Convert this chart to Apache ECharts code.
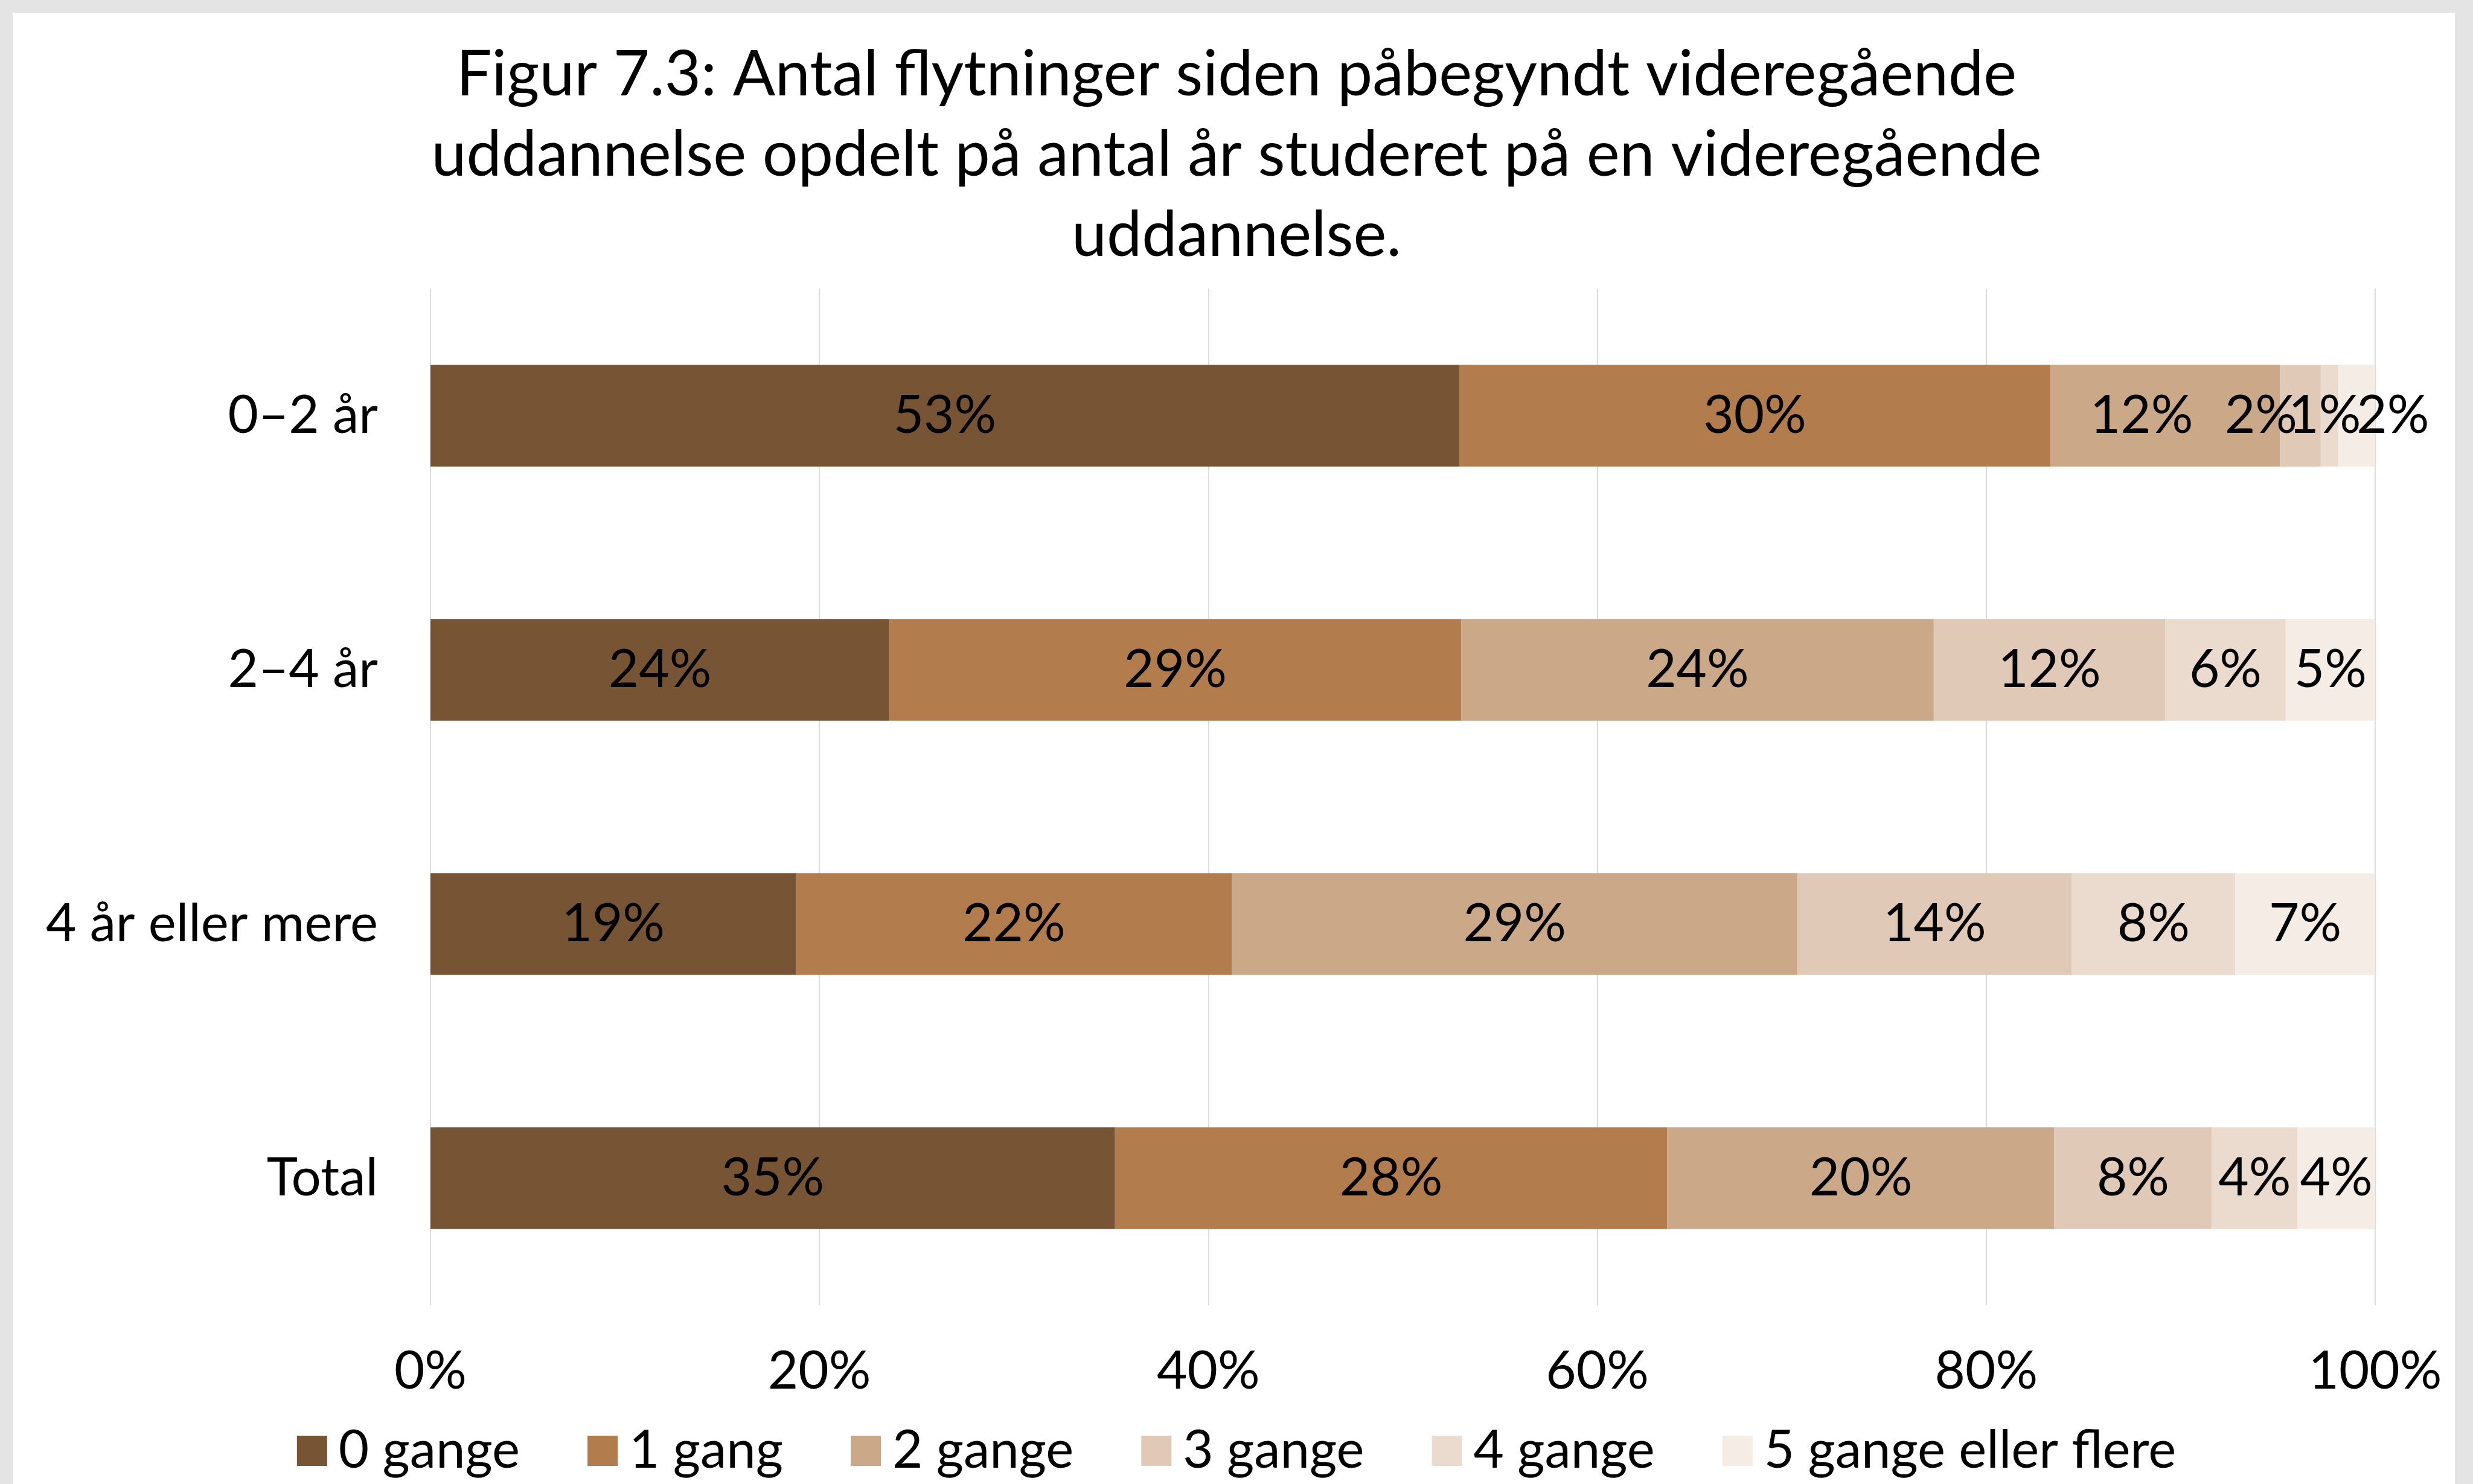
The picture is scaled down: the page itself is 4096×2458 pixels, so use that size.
<!DOCTYPE html>
<html>
<head>
<meta charset="utf-8">
<script src="https://cdn.jsdelivr.net/npm/echarts@6/dist/echarts.min.js"></script>
<style>
  html, body { margin: 0; padding: 0; background: #e4e4e4; }
  #paper { position: absolute; left: 21px; top: 21px; width: 4045px; height: 2437px; background: #fff; }
  #chart { position: absolute; left: 0; top: 0; width: 4096px; height: 2458px; }
</style>
</head>
<body>
<div id="paper"></div>
<div id="chart"></div>
<script>
// categories (rows, top to bottom)
const categories = ['0–2 år', '2–4 år', '4 år eller mere', 'Total'];

// shares in percent, one array per answer
const gange0 = [52.9, 23.6, 18.8, 35.2];
const gang1 = [30.4, 29.4, 22.4, 28.4];
const gange2 = [11.8, 24.3, 29.1, 19.9];
const gange3 = [2.1, 11.9, 14.1, 8.1];
const gange4 = [0.9, 6.2, 8.4, 4.4];
const gange5 = [1.9, 4.6, 7.2, 4.0];

const seriesNames = ['0 gange', '1 gang', '2 gange', '3 gange', '4 gange', '5 gange eller flere'];
const seriesData = [gange0, gang1, gange2, gange3, gange4, gange5];
const colors = ['#775434', '#b27c4c', '#cba888', '#e0c9b6', '#eadbce', '#f4ece5'];

// labels in the crowded first row are nudged sideways, like the original
const firstRowLabelShift = [0, 0, -39, -65, -8, 60];

const xTicks = [0, 20, 40, 60, 80, 100];

const FONT = 'Lato';
const FS = 87;

const chart = echarts.init(document.getElementById('chart'), null, { renderer: 'canvas' });

const option = {
  backgroundColor: 'transparent',
  textStyle: { fontFamily: FONT, color: '#000' },
  graphic: [{
    type: 'text',
    left: 'center',
    top: 58,
    style: {
      text: 'Figur 7.3: Antal flytninger siden påbegyndt videregående\nuddannelse opdelt på antal år studeret på en videregående\nuddannelse.',
      textAlign: 'center',
      fontFamily: FONT,
      fontSize: 104,
      lineHeight: 133,
      fill: '#000'
    }
  }],
  legend: {
    data: seriesNames,
    left: 'center',
    top: 2348,
    itemWidth: 50,
    itemHeight: 50,
    itemGap: 112,
    icon: 'rect',
    textStyle: { fontFamily: FONT, fontSize: FS, color: '#000', padding: [0, 0, 0, 14], lineHeight: 100 }
  },
  grid: {
    left: 713,
    right: 162,
    top: 478,
    bottom: 296,
    containLabel: false
  },
  xAxis: {
    type: 'value',
    min: xTicks[0],
    max: xTicks[xTicks.length - 1],
    interval: 20,
    axisLine: { show: false },
    axisTick: { show: false },
    splitLine: { lineStyle: { color: '#dcdcdc', width: 2 } },
    axisLabel: { formatter: '{value}%', fontSize: FS, color: '#000', margin: 66, fontFamily: FONT }
  },
  yAxis: {
    type: 'category',
    data: categories,
    inverse: true,
    axisLine: { show: false },
    axisTick: { show: false },
    axisLabel: { fontSize: FS, color: '#000', margin: 87, fontFamily: FONT }
  },
  series: seriesNames.map((name, i) => ({
    name: name,
    type: 'bar',
    stack: 'total',
    barWidth: '40%',
    data: seriesData[i].map((v, j) => j === 0
      ? { value: v, label: { offset: [firstRowLabelShift[i], 0] } }
      : v),
    itemStyle: { color: colors[i] },
    label: {
      show: true,
      position: 'inside',
      formatter: p => Math.round(p.value) + '%',
      fontSize: FS,
      color: '#000',
      fontFamily: FONT
    }
  }))
};

chart.setOption(option);
</script>
</body>
</html>
